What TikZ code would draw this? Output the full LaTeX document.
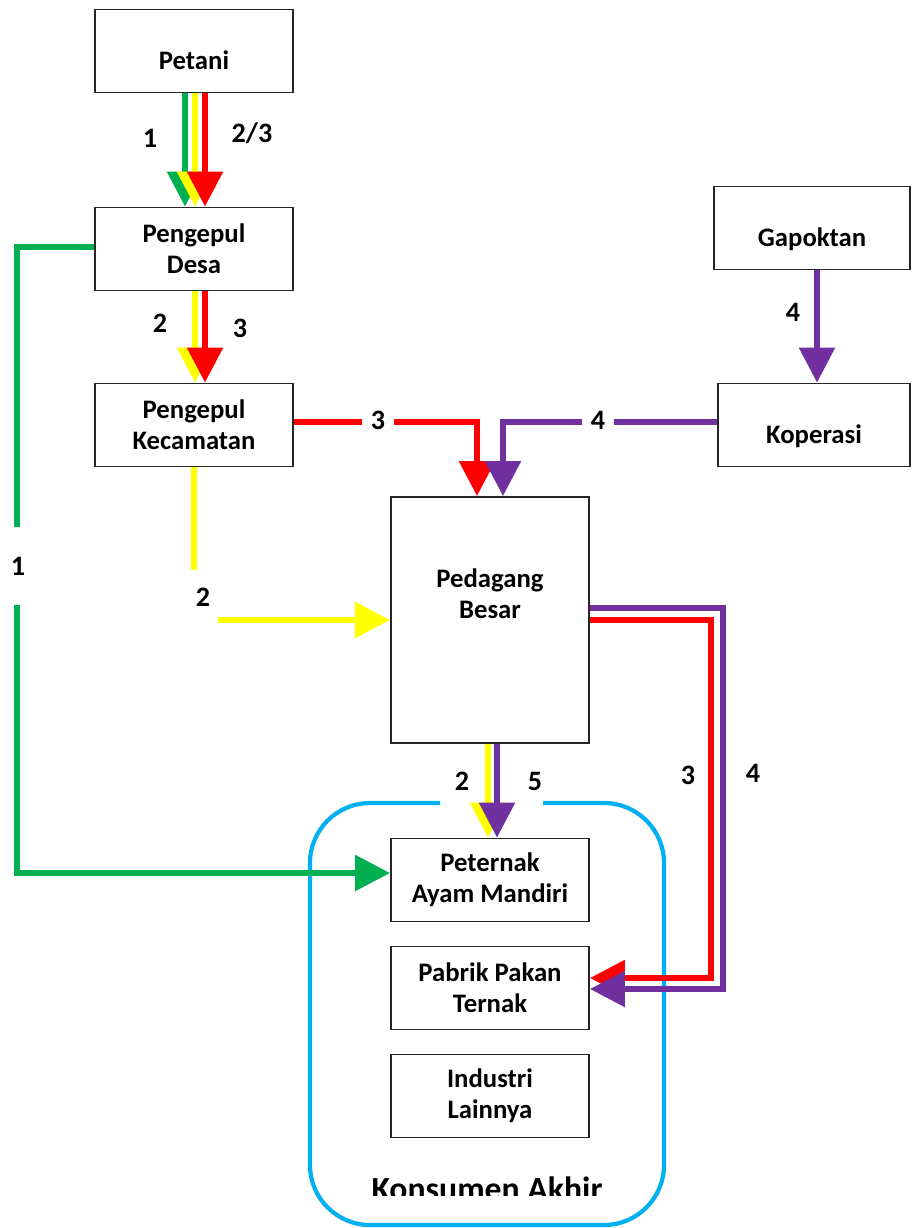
\documentclass[tikz,border=0pt]{standalone}
\usepackage{fontspec}
\setmainfont{Carlito}
\usetikzlibrary{arrows.meta, calc}

\definecolor{grn}{RGB}{0,176,80}
\definecolor{ylw}{RGB}{255,255,0}
\definecolor{rd}{RGB}{255,0,0}
\definecolor{prp}{RGB}{112,48,160}
\definecolor{blu}{RGB}{0,176,240}

\tikzstyle{box} = [rectangle, draw=black!85, line width=1.3pt, minimum width=4.95cm, minimum height=2.075cm, align=center, fill=white, font=\fontsize{19}{22}\selectfont\bfseries]
\tikzstyle{oneline} = [text height=26pt, text depth=0pt]
\tikzstyle{num} = [fill=white, inner sep=0pt, font=\fontsize{20}{22}\selectfont\bfseries]
\tikzstyle{arrow} = [line width=4pt, -{Triangle[length=0.875cm, width=0.875cm]}]
\tikzstyle{konsumen} = [draw=blu, line width=3pt, rounded corners=1.5cm]

\begin{document}
\begin{tikzpicture}[x=0.025cm, y=-0.025cm]
\useasboundingbox (0,0) rectangle (912,1228);

% consumer group
\draw[konsumen] (543,803) -- (664,803) -- (664,1225) -- (310,1225) -- (310,803) -- (440,803);
\begin{scope}
\clip (300,1160) rectangle (700,1195);
\node[anchor=base, font=\fontsize{24}{26}\selectfont\bfseries] (akhir) at (487,1200) {Konsumen Akhir};
\end{scope}

% boxes
\node (petani) [box, oneline] at (194,51) {Petani};
\node (desa) [box] at (194,249) {Pengepul\\Desa};
\node (kecamatan) [box] at (194,425) {Pengepul\\Kecamatan};
\node (gapoktan) [box, oneline, minimum width=4.9cm] at (812,228) {Gapoktan};
\node (koperasi) [box, oneline, minimum width=4.8cm] at (814,425) {Koperasi};
\node (pedagang) [box, minimum height=6.15cm] at (490,620) {Pedagang\\Besar\\[9pt]\strut};
\node (peternak) [box] at (490,880) {Peternak\\Ayam Mandiri};
\node (pabrik) [box] at (490,988) {Pabrik Pakan\\Ternak};
\node (industri) [box] at (490,1096) {Industri\\Lainnya};

% petani -> pengepul desa
\draw[arrow, grn] ($(petani.south)+(-9,0)$) -- ($(desa.north)+(-9,0)$);
\draw[arrow, ylw] ($(petani.south)+(1,0)$) -- ($(desa.north)+(1,0)$);
\draw[arrow, rd] ($(petani.south)+(11,0)$) -- ($(desa.north)+(11,0)$);
\node[num] (n1) at (150,138) {1};
\node[num] (n23) at (252,133) {2/3};

% pengepul desa -> kecamatan
\draw[arrow, ylw] ($(desa.south)+(1,0)$) -- ($(kecamatan.north)+(1,0)$);
\draw[arrow, rd] ($(desa.south)+(11,0)$) -- ($(kecamatan.north)+(11,0)$);
\node[num] (n2a) at (160,323) {2};
\node[num] (n3a) at (240,328) {3};

% pengepul desa -> peternak
\draw[arrow, grn] ($(desa.west)+(0,-2)$) -- ++(-77,0) |- ($(peternak.west)+(0,-7)$);
\node[num, minimum width=0.6cm, minimum height=1.95cm] (n1g) at (18,566) {1};

% kecamatan -> pedagang
\draw[arrow, rd] ($(kecamatan.east)+(0,-3)$) -| ($(pedagang.north)+(-13,0)$);
\node[num, minimum width=0.8cm] (n3b) at (378,420) {3};
\draw[arrow, ylw] (kecamatan.south) |- (pedagang.west);
\node[num, minimum width=0.75cm, minimum height=1.35cm] (n2b) at (203,597) {2};

% gapoktan -> koperasi -> pedagang
\draw[arrow, prp] ($(gapoktan.south)+(5,0)$) -- ($(koperasi.north)+(3,0)$);
\node[num] (n4a) at (793,312) {4};
\draw[arrow, prp] ($(koperasi.west)+(0,-3)$) -| ($(pedagang.north)+(13,0)$);
\node[num, minimum width=0.8cm] (n4b) at (598,420) {4};

% pedagang -> peternak
\draw[arrow, ylw] ($(pedagang.south)+(-2,0)$) -- ($(peternak.north)+(-2,0)$);
\draw[arrow, prp] ($(pedagang.south)+(7,0)$) -- ($(peternak.north)+(7,0)$);
\node[num] (n2c) at (462,781) {2};
\node[num] (n5) at (535,781) {5};

% pedagang -> pabrik
\draw[arrow, rd] (pedagang.east) -- ++(121,0) |- ($(pabrik.east)+(0,-10)$);
\draw[arrow, prp] ($(pedagang.east)+(0,-12)$) -- ++(133,0) |- ($(pabrik.east)+(0,1)$);
\node[num] (n3c) at (688,775) {3};
\node[num] (n4c) at (753,773) {4};

\end{tikzpicture}
\end{document}
